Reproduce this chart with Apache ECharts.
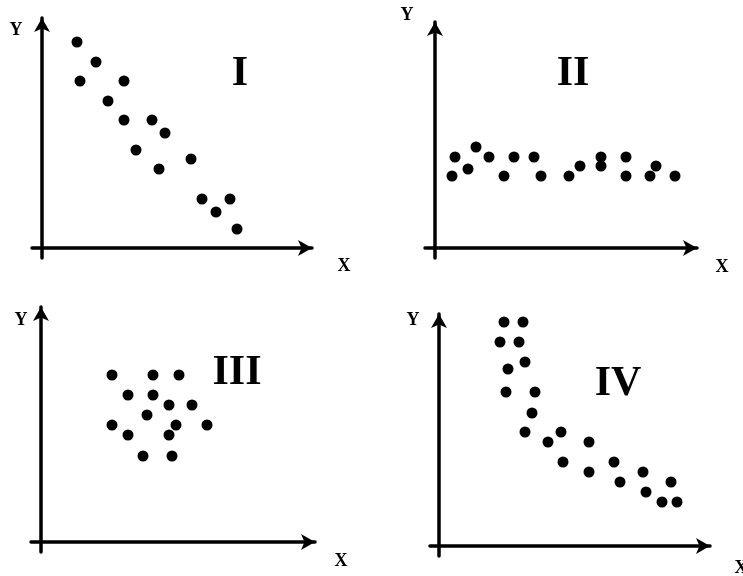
<!DOCTYPE html>
<html>
<head>
<meta charset="utf-8">
<script src="https://cdn.jsdelivr.net/npm/echarts@6/dist/echarts.min.js"></script>
<style>
  html, body { margin: 0; padding: 0; background: #fff; }
  #chart { width: 743px; height: 576px; }
</style>
</head>
<body>
<div id="chart"></div>
<script>
var panelNames = ["I", "II", "III", "IV"];
var pointsI = [
  [35, 206], [54, 186], [38, 167], [82, 167], [66, 147], [82, 128], [110, 128], [123, 115],
  [94, 98], [117, 79], [149, 89], [160, 49], [188, 49], [174, 36], [195, 19]
];
var pointsII = [
  [17, 72], [20, 91], [33, 79], [41, 101], [54, 91], [69, 72], [79, 91], [99, 91], [106, 72],
  [134, 72], [145, 82], [166, 91], [166, 82], [191, 91], [191, 72], [215, 72], [221, 82], [240, 72]
];
var pointsIII = [
  [71, 167], [112, 167], [138, 167], [87, 147], [112, 147], [128, 137], [151, 137], [106, 127],
  [71, 117], [135, 117], [166, 117], [87, 107], [128, 107], [102, 86], [131, 86]
];
var pointsIV = [
  [65, 224], [84, 224], [61, 204], [80, 204], [69, 177], [86, 184], [67, 154], [96, 154],
  [93, 133], [86, 114], [109, 104], [122, 114], [150, 104], [124, 84], [150, 74], [175, 84],
  [181, 64], [204, 74], [207, 54], [232, 64], [223, 44], [238, 44]
];
var allPoints = [pointsI, pointsII, pointsIII, pointsIV];

// grid box + axis extents for each panel (origin sits at 0,0)
var panels = [
  { left: 32, top: 18, xMin: -10, xMax: 270, yMin: -10, yMax: 230 },
  { left: 425, top: 22, xMin: -10, xMax: 262, yMin: -10, yMax: 226 },
  { left: 31, top: 307, xMin: -10, xMax: 274, yMin: -10, yMax: 235 },
  { left: 430, top: 314, xMin: -9, xMax: 271, yMin: -10, yMax: 232 }
];
// label spots: [numeral x, y, "Y" x, y, "X" x, y]
var labelPos = [
  [240, 74, 16, 30, 344, 266],
  [573, 74, 407, 15, 722, 267],
  [237, 373, 21, 320, 341, 561],
  [618, 384, 413, 320, 741, 568]
];

var chart = echarts.init(document.getElementById("chart"));

var grids = [], xAxes = [], yAxes = [], series = [], texts = [];
var axisLine = {
  onZero: true,
  symbol: ["none", "arrow"],
  symbolSize: [12, 14],
  lineStyle: { color: "#000", width: 3.5 }
};

panels.forEach(function (p, i) {
  grids.push({
    left: p.left,
    top: p.top,
    width: p.xMax - p.xMin,
    height: p.yMax - p.yMin
  });
  xAxes.push({
    gridIndex: i, type: "value", min: p.xMin, max: p.xMax,
    axisLine: axisLine, axisTick: { show: false }, axisLabel: { show: false },
    splitLine: { show: false }
  });
  yAxes.push({
    gridIndex: i, type: "value", min: p.yMin, max: p.yMax,
    axisLine: axisLine, axisTick: { show: false }, axisLabel: { show: false },
    splitLine: { show: false }
  });
  series.push({
    type: "scatter",
    xAxisIndex: i,
    yAxisIndex: i,
    data: allPoints[i],
    symbol: "circle",
    symbolSize: 11,
    itemStyle: { color: "#000", opacity: 1 },
    silent: true
  });

  var lp = labelPos[i];
  texts.push({
    type: "text", x: lp[0], y: lp[1],
    style: { text: panelNames[i], font: "bold 42px 'Liberation Serif'", fill: "#000",
      textAlign: "center", textVerticalAlign: "middle" }
  });
  texts.push({
    type: "text", x: lp[2], y: lp[3],
    style: { text: "Y", font: "bold 18px 'Liberation Serif'", fill: "#000",
      textAlign: "center", textVerticalAlign: "middle" }
  });
  texts.push({
    type: "text", x: lp[4], y: lp[5],
    style: { text: "X", font: "bold 18px 'Liberation Serif'", fill: "#000",
      textAlign: "center", textVerticalAlign: "middle" }
  });
});

chart.setOption({
  backgroundColor: "#fff",
  animation: false,
  grid: grids,
  xAxis: xAxes,
  yAxis: yAxes,
  series: series,
  graphic: texts
});
</script>
</body>
</html>
